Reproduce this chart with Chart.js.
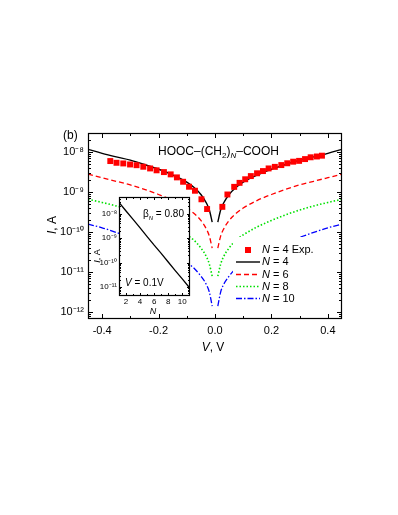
<!DOCTYPE html>
<html>
<head>
<meta charset="utf-8">
<script src="https://cdn.jsdelivr.net/npm/chart.js@4.4.1/dist/chart.umd.min.js"></script>
<style>
  html, body { margin: 0; padding: 0; background: #fff; }
  #wrap { position: relative; width: 398px; height: 515px; }
  #main { position: absolute; left: 0; top: 0; }
  #inset { position: absolute; left: 90px; top: 188px; }
</style>
</head>
<body>
<div id="wrap">
  <canvas id="main" width="398" height="515"></canvas>
  <canvas id="inset" width="106" height="130"></canvas>
</div>
<script>
const FONT = "'Liberation Sans', Arial, sans-serif";

// |V| grid the model curves are read at (each curve is symmetric in V)
const VOLTAGE = [0.01, 0.02, 0.03, 0.05, 0.075, 0.1, 0.15, 0.2, 0.25, 0.3, 0.35, 0.4, 0.45];
const CURRENT_N4 = [1.78e-10, 3.55e-10, 5.25e-10, 8.7e-10, 1.32e-9, 1.78e-9, 2.69e-9, 3.72e-9, 4.9e-9, 6.3e-9, 7.6e-9, 9.3e-9, 1.17e-8];
const CURRENT_N6 = [3.98e-11, 7.9e-11, 1.17e-10, 1.95e-10, 2.95e-10, 3.98e-10, 6.2e-10, 8.7e-10, 1.17e-9, 1.51e-9, 1.86e-9, 2.29e-9, 2.82e-9];
const CURRENT_N8 = [7.9e-12, 1.58e-11, 2.4e-11, 3.98e-11, 6.3e-11, 8.5e-11, 1.35e-10, 1.95e-10, 2.7e-10, 3.55e-10, 4.5e-10, 5.5e-10, 6.6e-10];
const CURRENT_N10 = [1.41e-12, 3.16e-12, 4.8e-12, 7.9e-12, 1.26e-11, 1.74e-11, 2.8e-11, 4.0e-11, 5.5e-11, 7.4e-11, 9.8e-11, 1.28e-10, 1.58e-10];

// measured N = 4 points
const EXP_VOLTAGE = [-0.371, -0.349, -0.325, -0.301, -0.278, -0.254, -0.230, -0.207, -0.181, -0.157, -0.135, -0.113, -0.092, -0.071, -0.048, -0.028,
    0.026, 0.044, 0.068, 0.087, 0.107, 0.127, 0.149, 0.170, 0.190, 0.212, 0.235, 0.256, 0.277, 0.298, 0.319, 0.339, 0.361, 0.379];
const EXP_CURRENT = [5.96e-9, 5.4e-9, 5.2e-9, 4.9e-9, 4.7e-9, 4.3e-9, 3.9e-9, 3.5e-9, 3.16e-9, 2.77e-9, 2.33e-9, 1.81e-9, 1.36e-9, 1.08e-9, 6.6e-10, 3.76e-10,
    4.27e-10, 8.7e-10, 1.35e-9, 1.7e-9, 2.09e-9, 2.51e-9, 2.95e-9, 3.35e-9, 3.9e-9, 4.27e-9, 4.73e-9, 5.25e-9, 5.75e-9, 6.03e-9, 6.68e-9, 7.41e-9, 7.76e-9, 8.13e-9];

const X_TICKS = [-0.4, -0.2, 0, 0.2, 0.4];
const X_MINOR = [-0.3, -0.1, 0.1, 0.3];
const Y_TICKS = [1e-12, 1e-11, 1e-10, 1e-9, 1e-8];

// inset: current at V = 0.1 V against chain length
const INSET_N = [1, 2, 3, 4, 5, 6, 7, 8, 9, 10, 11];
const INSET_CURRENT = [2.88e-8, 1.29e-8, 5.9e-9, 2.63e-9, 1.17e-9, 5.2e-10, 2.4e-10, 1.07e-10, 4.8e-11, 2.19e-11, 9.8e-12];
const INSET_X_TICKS = [2, 4, 6, 8, 10];
const INSET_X_MINOR = [1, 3, 5, 7, 9, 11];
const INSET_Y_TICKS = [1e-11, 1e-10, 1e-9, 1e-8];

const SERIES = [
    { label: '4', current: CURRENT_N4, color: '#000000', dash: [], width: 1.4 },
    { label: '6', current: CURRENT_N6, color: '#ff0000', dash: [5, 3], width: 1.3 },
    { label: '8', current: CURRENT_N8, color: '#00e000', dash: [1.5, 2], width: 1.6 },
    { label: '10', current: CURRENT_N10, color: '#0000ff', dash: [6, 2, 1.5, 2], width: 1.3 },
];

const SUP = { '-': '\u207b', '0': '\u2070', '1': '\u00b9', '2': '\u00b2', '3': '\u00b3', '4': '\u2074',
    '5': '\u2075', '6': '\u2076', '7': '\u2077', '8': '\u2078', '9': '\u2079' };

function powerLabel(v) {
    const e = String(Math.round(Math.log10(v)));
    return '10' + e.split('').map(c => SUP[c]).join('');
}

function mirrored(current) {
    const pts = [];
    for (let i = VOLTAGE.length - 1; i >= 0; i--) pts.push({ x: -VOLTAGE[i], y: current[i] });
    pts.push({ x: 0, y: null });
    for (let i = 0; i < VOLTAGE.length; i++) pts.push({ x: VOLTAGE[i], y: current[i] });
    return pts;
}

function logMinors(min, max) {
    const out = [];
    for (let k = Math.floor(Math.log10(min)); k <= Math.ceil(Math.log10(max)); k++) {
        for (let m = 2; m <= 9; m++) {
            const v = m * Math.pow(10, k);
            if (v >= min && v <= max) out.push(v);
        }
    }
    return out;
}

// frame with inward ticks on all four sides
function drawFrame(chart, xMajor, xMinor, yMajor, yMinor, majorLen, minorLen) {
    const { ctx, chartArea: a, scales: { x, y } } = chart;
    ctx.save();
    ctx.strokeStyle = '#000';
    ctx.lineWidth = 1.2;
    ctx.setLineDash([]);
    ctx.strokeRect(a.left + 0.5, a.top + 0.5, a.right - a.left - 1, a.bottom - a.top - 1);
    ctx.lineWidth = 1;
    ctx.beginPath();
    const xt = (vals, len) => vals.forEach(v => {
        const px = Math.round(x.getPixelForValue(v)) + 0.5;
        ctx.moveTo(px, a.bottom); ctx.lineTo(px, a.bottom - len);
        ctx.moveTo(px, a.top); ctx.lineTo(px, a.top + len);
    });
    const yt = (vals, len) => vals.forEach(v => {
        const py = Math.round(y.getPixelForValue(v)) + 0.5;
        ctx.moveTo(a.left, py); ctx.lineTo(a.left + len, py);
        ctx.moveTo(a.right, py); ctx.lineTo(a.right - len, py);
    });
    xt(xMajor, majorLen); xt(xMinor, minorLen);
    yt(yMajor, majorLen); yt(yMinor, minorLen);
    ctx.stroke();
    ctx.restore();
}

// draw a run of text pieces: [text, size, italic, dy]
function drawRich(ctx, pieces, x, y) {
    let cx = x;
    pieces.forEach(([t, size, italic, dy]) => {
        ctx.font = (italic ? 'italic ' : '') + size + 'px ' + FONT;
        ctx.fillText(t, cx, y + (dy || 0));
        cx += ctx.measureText(t).width;
    });
    return cx - x;
}

function richWidth(ctx, pieces) {
    let w = 0;
    pieces.forEach(([t, size, italic]) => {
        ctx.font = (italic ? 'italic ' : '') + size + 'px ' + FONT;
        w += ctx.measureText(t).width;
    });
    return w;
}

const mainDecor = {
    id: 'mainDecor',
    afterDatasetsDraw(chart) {
        const ctx = chart.ctx;
        ctx.save();
        // legend box
        ctx.fillStyle = '#fff';
        ctx.fillRect(233, 237, 75, 69);
        const rows = [250, 262, 274.5, 286.5, 298.5];
        ctx.fillStyle = '#ff0000';
        ctx.fillRect(245, rows[0] - 3, 6, 6);
        SERIES.forEach((s, i) => {
            const yy = rows[i + 1];
            ctx.strokeStyle = s.color;
            ctx.lineWidth = s.width;
            ctx.setLineDash(s.dash);
            ctx.beginPath();
            ctx.moveTo(236, yy);
            ctx.lineTo(260, yy);
            ctx.stroke();
        });
        ctx.setLineDash([]);
        ctx.fillStyle = '#000';
        ctx.textBaseline = 'middle';
        ctx.textAlign = 'left';
        drawRich(ctx, [['N', 11, true], [' = 4 Exp.', 11]], 262, rows[0]);
        SERIES.forEach((s, i) => drawRich(ctx, [['N', 11, true], [' = ' + s.label, 11]], 262, rows[i + 1]));
        ctx.restore();
    },
    afterDraw(chart) {
        const ctx = chart.ctx;
        const y = chart.scales.y;
        drawFrame(chart, X_TICKS, X_MINOR, Y_TICKS, logMinors(y.min, y.max), 5, 3);
        ctx.save();
        ctx.fillStyle = '#000';
        ctx.textBaseline = 'alphabetic';
        ctx.textAlign = 'left';
        drawRich(ctx, [['(b)', 12]], 63, 139);
        drawRich(ctx, [['HOOC\u2013(CH', 12], ['2', 8, false, 3], [')', 12], ['N', 8, true, 3], ['\u2013COOH', 12]], 158, 155);
        // axis titles
        const xt = [['V', 12, true], [', V', 12]];
        drawRich(ctx, xt, 213 - richWidth(ctx, xt) / 2, 351);
        const yt = [['I', 12, true], [', A', 12]];
        ctx.translate(56, 225);
        ctx.rotate(-Math.PI / 2);
        drawRich(ctx, yt, -richWidth(ctx, yt) / 2, 0);
        ctx.restore();
    }
};

const insetDecor = {
    id: 'insetDecor',
    beforeDatasetsDraw(chart) {
        const { ctx, chartArea: a } = chart;
        ctx.save();
        ctx.fillStyle = '#fff';
        ctx.fillRect(a.left, a.top, a.right - a.left, a.bottom - a.top);
        ctx.restore();
    },
    afterDraw(chart) {
        const ctx = chart.ctx;
        const y = chart.scales.y;
        drawFrame(chart, INSET_X_TICKS, INSET_X_MINOR, INSET_Y_TICKS, logMinors(y.min, y.max), 3, 2);
        ctx.save();
        ctx.fillStyle = '#000';
        ctx.textBaseline = 'alphabetic';
        ctx.textAlign = 'left';
        drawRich(ctx, [['\u03b2', 10], ['N', 6, true, 3], [' = 0.80', 10]], 53, 29);
        drawRich(ctx, [['V', 10, true], [' = 0.1V', 10]], 35, 98);
        const nt = [['N', 9, true]];
        drawRich(ctx, nt, 63 - richWidth(ctx, nt) / 2, 126);
        const yt = [['I', 9, true], [', A', 9]];
        ctx.translate(10, 68);
        ctx.rotate(-Math.PI / 2);
        drawRich(ctx, yt, -richWidth(ctx, yt) / 2, 0);
        ctx.restore();
    }
};

const datasets = [{
    data: EXP_VOLTAGE.map((v, i) => ({ x: v, y: EXP_CURRENT[i] })),
    showLine: false,
    pointStyle: 'rect',
    pointRadius: 4.2,
    backgroundColor: '#ff0000',
    borderWidth: 0,
}].concat(SERIES.map(s => ({
    data: mirrored(s.current),
    showLine: true,
    borderColor: s.color,
    borderWidth: s.width,
    borderDash: s.dash,
    pointRadius: 0,
    cubicInterpolationMode: 'monotone',
    spanGaps: false,
})));

new Chart(document.getElementById('main'), {
    type: 'scatter',
    data: { datasets: datasets },
    options: {
        responsive: false,
        animation: false,
        layout: { padding: { left: 0, top: 133, right: 56, bottom: 0 } },
        plugins: { legend: { display: false }, tooltip: { enabled: false } },
        scales: {
            x: {
                type: 'linear',
                min: -0.45,
                max: 0.45,
                afterBuildTicks: s => { s.ticks = X_TICKS.map(v => ({ value: v })); },
                afterFit: s => { s.height = 196; },
                grid: { display: false, drawTicks: false },
                border: { display: false },
                ticks: {
                    padding: 5,
                    color: '#000',
                    font: { family: FONT, size: 11 },
                    callback: v => v.toFixed(1),
                },
            },
            y: {
                type: 'logarithmic',
                min: 6.7e-13,
                max: 3e-8,
                afterBuildTicks: s => { s.ticks = Y_TICKS.map(v => ({ value: v })); },
                afterFit: s => { s.width = 88; },
                grid: { display: false, drawTicks: false },
                border: { display: false },
                ticks: {
                    padding: 4,
                    color: '#000',
                    font: { family: FONT, size: 11 },
                    callback: v => powerLabel(v),
                },
            },
        },
    },
    plugins: [mainDecor],
});

new Chart(document.getElementById('inset'), {
    type: 'scatter',
    data: {
        datasets: [{
            data: INSET_N.map((n, i) => ({ x: n, y: INSET_CURRENT[i] })),
            showLine: true,
            borderColor: '#000',
            borderWidth: 1.3,
            pointRadius: 0,
        }]
    },
    options: {
        responsive: false,
        animation: false,
        layout: { padding: { left: 0, top: 9, right: 6, bottom: 0 } },
        plugins: { legend: { display: false }, tooltip: { enabled: false } },
        scales: {
            x: {
                type: 'linear',
                min: 1,
                max: 11.1,
                afterBuildTicks: s => { s.ticks = INSET_X_TICKS.map(v => ({ value: v })); },
                afterFit: s => { s.height = 22; },
                grid: { display: false, drawTicks: false },
                border: { display: false },
                ticks: { padding: 1, color: '#000', font: { family: FONT, size: 8 }, maxRotation: 0 },
            },
            y: {
                type: 'logarithmic',
                min: 4.4e-12,
                max: 4.8e-8,
                afterBuildTicks: s => { s.ticks = INSET_Y_TICKS.map(v => ({ value: v })); },
                afterFit: s => { s.width = 29; },
                grid: { display: false, drawTicks: false },
                border: { display: false },
                ticks: {
                    padding: 2,
                    color: '#000',
                    font: { family: FONT, size: 8 },
                    callback: v => powerLabel(v),
                },
            },
        },
    },
    plugins: [insetDecor],
});
</script>
</body>
</html>
